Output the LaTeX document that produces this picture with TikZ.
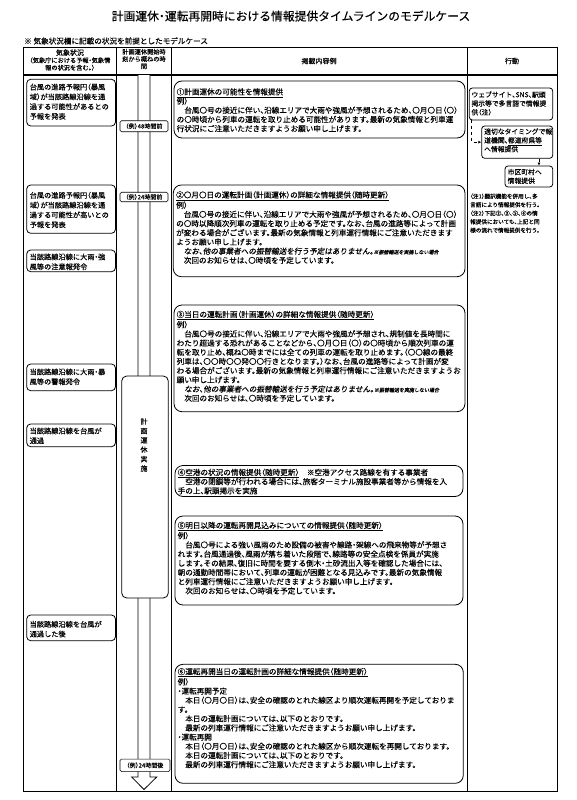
\documentclass[tikz,border=0pt]{standalone}
\usepackage{fontspec}
\setmainfont[RawFeature=+halt, FakeBold=0.25]{Noto Sans CJK JP}
\newfontfamily\slantjp[RawFeature=+halt, FakeBold=0.25, FakeSlant=0.18]{Noto Sans CJK JP}
\usetikzlibrary{arrows.meta,fit}
\newcommand{\jfs}[2]{\fontsize{#1}{#2}\selectfont}
\tikzset{
  tbl/.style={line width=0.9pt},
  lbox/.style={draw, line width=0.8pt, rounded corners=4pt, fill=white, inner sep=0pt},
  cbox/.style={draw, line width=0.8pt, rounded corners=8pt, fill=white, inner sep=0pt},
  abox/.style={draw, line width=0.8pt, rounded corners=3pt, fill=white, inner sep=0pt},
  tbox/.style={draw, line width=0.6pt, rounded corners=1.5pt, fill=white, inner sep=0pt, font=\jfs{6}{7}},
  ltext/.style={anchor=north west, inner sep=0pt, align=left, font=\jfs{7.2}{9.8}},
  ctext/.style={anchor=north west, inner sep=0pt, align=left, font=\jfs{7.6}{9.2}},
  atext/.style={anchor=north west, inner sep=0pt, align=left, font=\jfs{6.8}{8.8}},
  dasharrow/.style={dashed, line width=0.8pt, -{Latex[length=3pt,width=3pt]}},
}
\begin{document}
\begin{tikzpicture}[x=1pt,y=-1pt]
\useasboundingbox (0,0) rectangle (576,800);
% title and note
\node[font=\jfs{11.8}{12}] (title) at (291,16) {計画運休・運転再開時における情報提供タイムラインのモデルケース};
\node[anchor=west, inner sep=0pt, font=\jfs{7.6}{8}] (note) at (24,41) {※ 気象状況欄に記載の状況を前提としたモデルケース};
% table
\draw[tbl] (23,47) rectangle (557,791);
\draw[tbl] (116.7,47) -- (116.7,791);
\draw[tbl] (171,47) -- (171,791);
\draw[tbl] (467.5,47) -- (467.5,791);
\draw[line width=1.3pt] (23,75) -- (557,75);
% headers
\node[align=center, font=\jfs{6.2}{7.4}] (h1) at (70,60) {{\jfs{7}{7.4}気象状況}\\（気象庁における予報・気象情\\報の状況を含む。）};
\node[align=center, font=\jfs{6.2}{7.2}] (h2) at (144,59) {計画運休開始時\\刻から概ねの時\\間};
\node[font=\jfs{7}{8}] (h3) at (319,61) {掲載内容例};
\node[font=\jfs{7}{8}] (h4) at (512,61) {行動};
% timeline shaft and head
\draw[line width=0.8pt, fill=white] (138,75) -- (138,777) -- (131.7,777) -- (144,789.5) -- (156.7,777) -- (150,777) -- (150,75);
\node[tbox, minimum width=48pt, minimum height=11pt] (t48) at (144,126.2) {（例）48時間前};
\node[tbox, minimum width=48pt, minimum height=9.5pt] (t24a) at (144,197) {（例）24時間前};
\node[tbox, minimum width=50pt, minimum height=12.5pt] (t24b) at (145,765.3) {（例）24時間後};
\node[draw, line width=0.8pt, rounded corners=5pt, fill=white, inner sep=0pt, fit={(121.7,376) (168.3,598)}] (jisshi) {};
\node[align=center, inner sep=0pt, font=\jfs{7}{9.4}] (jisshitext) at (144,445) {計\\画\\運\\休\\実\\施};
% left column
\node[lbox, fit={(26.7,79.3) (115.5,126)}] (l1) {};
\node[ltext] (l1t) at (29.5,83.4) {台風の進路予報円（暴風\\域）が当該路線沿線を通\\過する可能性があるとの\\予報を発表};
\node[lbox, fit={(26.7,185) (115.5,233.3)}] (l2) {};
\node[ltext] (l2t) at (29.5,191.7) {台風の進路予報円（暴風\\域）が当該路線沿線を通\\過する可能性が高いとの\\予報を発表};
\node[lbox, fit={(26.7,250) (115.5,271.7)}] (l3) {};
\node[ltext] (l3t) at (29.5,253.4) {当該路線沿線に大雨・強\\風等の注意報発令};
\node[lbox, fit={(26.7,364) (115.5,390.7)}] (l4) {};
\node[ltext] (l4t) at (29.5,368.4) {当該路線沿線に大雨・暴\\風等の警報発令};
\node[lbox, fit={(26.7,424) (115.5,446.7)}] (l5) {};
\node[ltext] (l5t) at (29.5,427.4) {当該路線沿線を台風が\\通過};
\node[lbox, fit={(26.7,615) (115.5,640.7)}] (l6) {};
\node[ltext] (l6t) at (29.5,620.7) {当該路線沿線を台風が\\通過した後};
% content column
\node[cbox, fit={(174,81) (465,138)}] (c1) {};
\node[ctext] (c1t) at (176.5,88.1) {\underline{①計画運休の可能性を情報提供}\\
例）\\
　台風〇号の接近に伴い、沿線エリアで大雨や強風が予想されるため、〇月〇日（〇）\\
の〇時頃から列車の運転を取り止める可能性があります。最新の気象情報と列車運\\
行状況にご注意いただきますようお願い申し上げます。};
\node[cbox, fit={(173.3,185) (465,276.7)}] (c2) {};
\node[ctext] (c2t) at (176,191.1) {\underline{②〇月〇日の運転計画（計画運休）の詳細な情報提供（随時更新）}\\
例）\\
　台風〇号の接近に伴い、沿線エリアで大雨や強風が予想されるため、〇月〇日（〇）\\
の〇時以降順次列車の運転を取り止める予定です。なお、台風の進路等によって計画\\
が変わる場合がございます。最新の気象情報と列車運行情報にご注意いただきます\\
ようお願い申し上げます。\\
　{\slantjp なお、他の事業者への振替輸送を行う予定はありません。{\jfs{5}{9.2}※振替輸送を実施しない場合}}\\
　次回のお知らせは、〇時頃を予定しています。};
\node[cbox, fit={(174,305) (465,411.7)}] (c3) {};
\node[ctext] (c3t) at (176.5,310.6) {\underline{③当日の運転計画（計画運休）の詳細な情報提供（随時更新）}\\
例）\\
　台風〇号の接近に伴い、沿線エリアで大雨や強風が予想され、規制値を長時間に\\
わたり超過する恐れがあることなどから、〇月〇日（〇）の〇時頃から順次列車の運\\
転を取り止め、概ね〇時までには全ての列車の運転を取り止めます。（〇〇線の最終\\
列車は、〇〇時〇〇発〇〇行きとなります。）なお、台風の進路等によって計画が変\\
わる場合がございます。最新の気象情報と列車運行情報にご注意いただきますようお\\
願い申し上げます。\\
　{\slantjp なお、他の事業者への振替輸送を行う予定はありません。{\jfs{5}{9.2}※振替輸送を実施しない場合}}\\
　次回のお知らせは、〇時頃を予定しています。};
\node[cbox, fit={(175,465.5) (463,496.5)}] (c4) {};
\node[ctext] (c4t) at (177.5,468.6) {\underline{④空港の状況の情報提供（随時更新）}　※空港アクセス路線を有する事業者\\
　空港の閉鎖等が行われる場合には、旅客ターミナル施設事業者等から情報を入\\
手の上、駅頭掲示を実施};
\node[cbox, fit={(175,516) (463,605)}] (c5) {};
\node[ctext] (c5t) at (177.5,521.6) {\underline{⑤明日以降の運転再開見込みについての情報提供（随時更新）}\\
例）\\
　台風〇号による強い風雨のため設備の被害や線路・架線への飛来物等が予想さ\\
れます。台風通過後、風雨が落ち着いた段階で、線路等の安全点検を係員が実施\\
します。その結果、復旧に時間を要する倒木・土砂流出入等を確認した場合には、\\
朝の通勤時間帯において、列車の運転が困難となる見込みです。最新の気象情報\\
と列車運行情報にご注意いただきますようお願い申し上げます。\\
　次回のお知らせは、〇時頃を予定しています。};
\node[cbox, fit={(175,664.3) (463.3,783.3)}] (c6) {};
\node[ctext] (c6t) at (177.5,667.8) {\underline{⑥運転再開当日の運転計画の詳細な情報提供（随時更新）}\\
例）\\
・運転再開予定\\
　本日（〇月〇日）は、安全の確認のとれた線区より順次運転再開を予定しておりま\\
す。\\
　本日の運転計画については、以下のとおりです。\\
　最新の列車運行情報にご注意いただきますようお願い申し上げます。\\
・運転再開\\
　本日（〇月〇日）は、安全の確認のとれた線区から順次運転を再開しております。\\
　本日の運転計画については、以下のとおりです。\\
　最新の列車運行情報にご注意いただきますようお願い申し上げます。};
% action column
\node[abox, fit={(469.3,88) (552.7,120)}] (ac1) {};
\node[atext] (ac1t) at (471.3,91.2) {ウェブサイト、SNS、駅頭\\掲示等で多言語で情報提\\供（注）};
\node[abox, fit={(481.7,126) (552.7,158.3)}] (ac2) {};
\node[atext] (ac2t) at (484,128.2) {適切なタイミングで報\\道機関、\underline{都道府県等}\\へ情報提供};
\node[abox, fit={(505,166) (552.7,187)}] (ac3) {};
\node[atext] (ac3t) at (507.5,168.6) {市区町村へ\\情報提供};
\draw[dasharrow] ([xshift=2.4pt]ac1.south west) |- (ac2.west);
\draw[dasharrow] ([xshift=21.8pt]ac2.south) -- ([xshift=21.8pt]ac2.south |- ac3.north);
\node[anchor=north west, inner sep=0pt, align=left, font=\jfs{5.6}{8.5}] (notes) at (470,193.4) {（注1）翻訳機能を併用し、多\\言語により情報提供を行う。\\（注2）下記②、③、⑤、⑥の情\\報提供においても、上記と同\\様の流れで情報提供を行う。};
\end{tikzpicture}
\end{document}
